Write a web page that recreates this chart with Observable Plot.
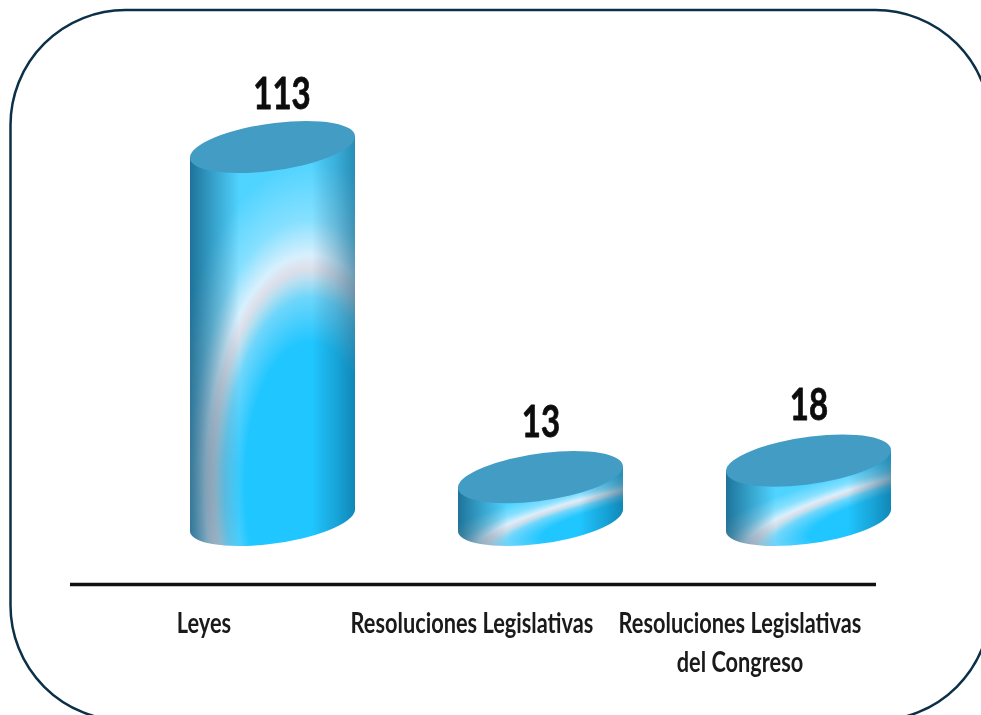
<!DOCTYPE html>
<html><head><meta charset="utf-8">
<script src="https://cdn.jsdelivr.net/npm/d3@7"></script>
<script src="https://cdn.jsdelivr.net/npm/@observablehq/plot@0.6"></script>
<style>html,body{margin:0;padding:0;background:#fff;overflow:hidden}
svg text{filter:blur(0.4px)}</style>
</head><body><div id="chart"></div>
<script>
const categories = ["Leyes", "Resoluciones Legislativas", "Resoluciones Legislativas\ndel Congreso"];
const values = [113, 13, 18];
const data = categories.map((category, i) => ({category, value: values[i]}));

const FONT = 'Lato,"Liberation Sans",sans-serif';
const TOP = "#439cc4";
const A = 83, B = 23.5, TILT = -8, D = 10;

function cylinder(gradient, filter) {
  return Plot.barY(data, {
    filter, x: "category", y: "value", fill: `url(#${gradient})`,
    render(index, scales, vals, dims, ctx, next) {
      const g = next(index, scales, vals, dims, ctx);
      const ns = "http://www.w3.org/2000/svg";
      g.querySelectorAll("rect").forEach(r => {
        const x = +r.getAttribute("x"), y = +r.getAttribute("y"),
              w = +r.getAttribute("width"), h = +r.getAttribute("height");
        const x1 = x + w, y0 = y + h;
        const body = `M${x},${y + D}L${x1},${y - D}L${x1},${y0 - D}A${A},${B} ${TILT} 0 1 ${x},${y0 + D}Z`;
        const top = `M${x},${y + D}A${A},${B} ${TILT} 0 1 ${x1},${y - D}A${A},${B} ${TILT} 0 1 ${x},${y + D}Z`;
        const add = (d, fill) => {
          const p = ctx.document.createElementNS(ns, "path");
          p.setAttribute("d", d); p.setAttribute("fill", fill);
          r.parentNode.insertBefore(p, r);
        };
        add(body, `url(#${gradient})`);
        add(body, "url(#shade)");
        add(top, TOP);
        r.remove();
      });
      return g;
    }
  });
}

const labelStyle = {fontFamily: FONT, fontWeight: 700, fontSize: 44, fill: "#0c0c0c", stroke: "#0c0c0c", strokeWidth: 0.8};

const plot = Plot.plot({
  width: 981, height: 715,
  marginLeft: 70, marginRight: 105, marginTop: 40, marginBottom: 131,
  x: {type: "band", axis: null, domain: categories, range: [138.5, 942.5], paddingInner: 0.384, paddingOuter: 0.192, label: null},
  y: {domain: [0, 113], range: [520, 147], axis: null},
  marks: [
    Plot.frame({stroke: "#0b3047", strokeWidth: 2.5, rx: 115, fill: "none",
      insetLeft: -60, insetTop: -30.5, insetRight: -114, insetBottom: -136}),
    cylinder("tall", d => d.value > 50),
    cylinder("short", d => d.value <= 50),
    Plot.ruleY([0], {dy: 64, stroke: "#111", strokeWidth: 3.5}),
    Plot.axisX({anchor: "bottom", tickSize: 0, tickPadding: 0, dx: -69, dy: 21, label: null,
      fontSize: 29, fontWeight: 700, lineHeight: 1.345, fontFamily: FONT, color: "#1a1a1a",
      ariaLabel: "category labels"}),
    Plot.text(data, {filter: d => d.value > 50, x: "category", y: "value", text: "value",
      lineAnchor: "bottom", dy: -39, dx: 9, ...labelStyle}),
    Plot.text(data, {filter: d => d.value <= 50, x: "category", y: "value", text: "value",
      lineAnchor: "bottom", dy: -41, ...labelStyle})
  ]
});

const defs = d3.create("svg:defs");
function radial(id, matrix, stops) {
  const g = defs.append("radialGradient").attr("id", id)
    .attr("gradientUnits", "objectBoundingBox")
    .attr("cx", 0).attr("cy", 0).attr("r", 1)
    .attr("gradientTransform", matrix);
  stops.forEach(([o, c]) => g.append("stop").attr("offset", o).attr("stop-color", c));
}
const stops = [[0, "#20c6ff"], [0.44, "#20c6ff"], [0.58, "#6fd6fb"], [0.635, "#b8dfef"],
  [0.67, "#dedfea"], [0.71, "#d8f0fd"], [0.82, "#86e0ff"], [1, "#4fd3ff"]];
radial("tall", "matrix(0.9 0 0 0.79 0.73 0.85)", stops);
radial("short", "matrix(1.567 -0.61 0 0.6 1.2 0.624)", stops);
const shade = defs.append("linearGradient").attr("id", "shade");
[[0, "#00375a", 0.62], [0.14, "#00375a", 0.32], [0.3, "#00375a", 0],
 [0.74, "#00375a", 0], [0.88, "#00486e", 0.25], [1, "#00486e", 0.5]].forEach(([o, c, a]) =>
  shade.append("stop").attr("offset", o).attr("stop-color", c).attr("stop-opacity", a));
plot.insertBefore(defs.node(), plot.firstChild);
plot.querySelectorAll("text").forEach(t => {
  const old = t.getAttribute("transform") || "";
  t.setAttribute("transform", old + " scale(0.75,1)");
});
document.getElementById("chart").appendChild(plot);
</script>
</body></html>
